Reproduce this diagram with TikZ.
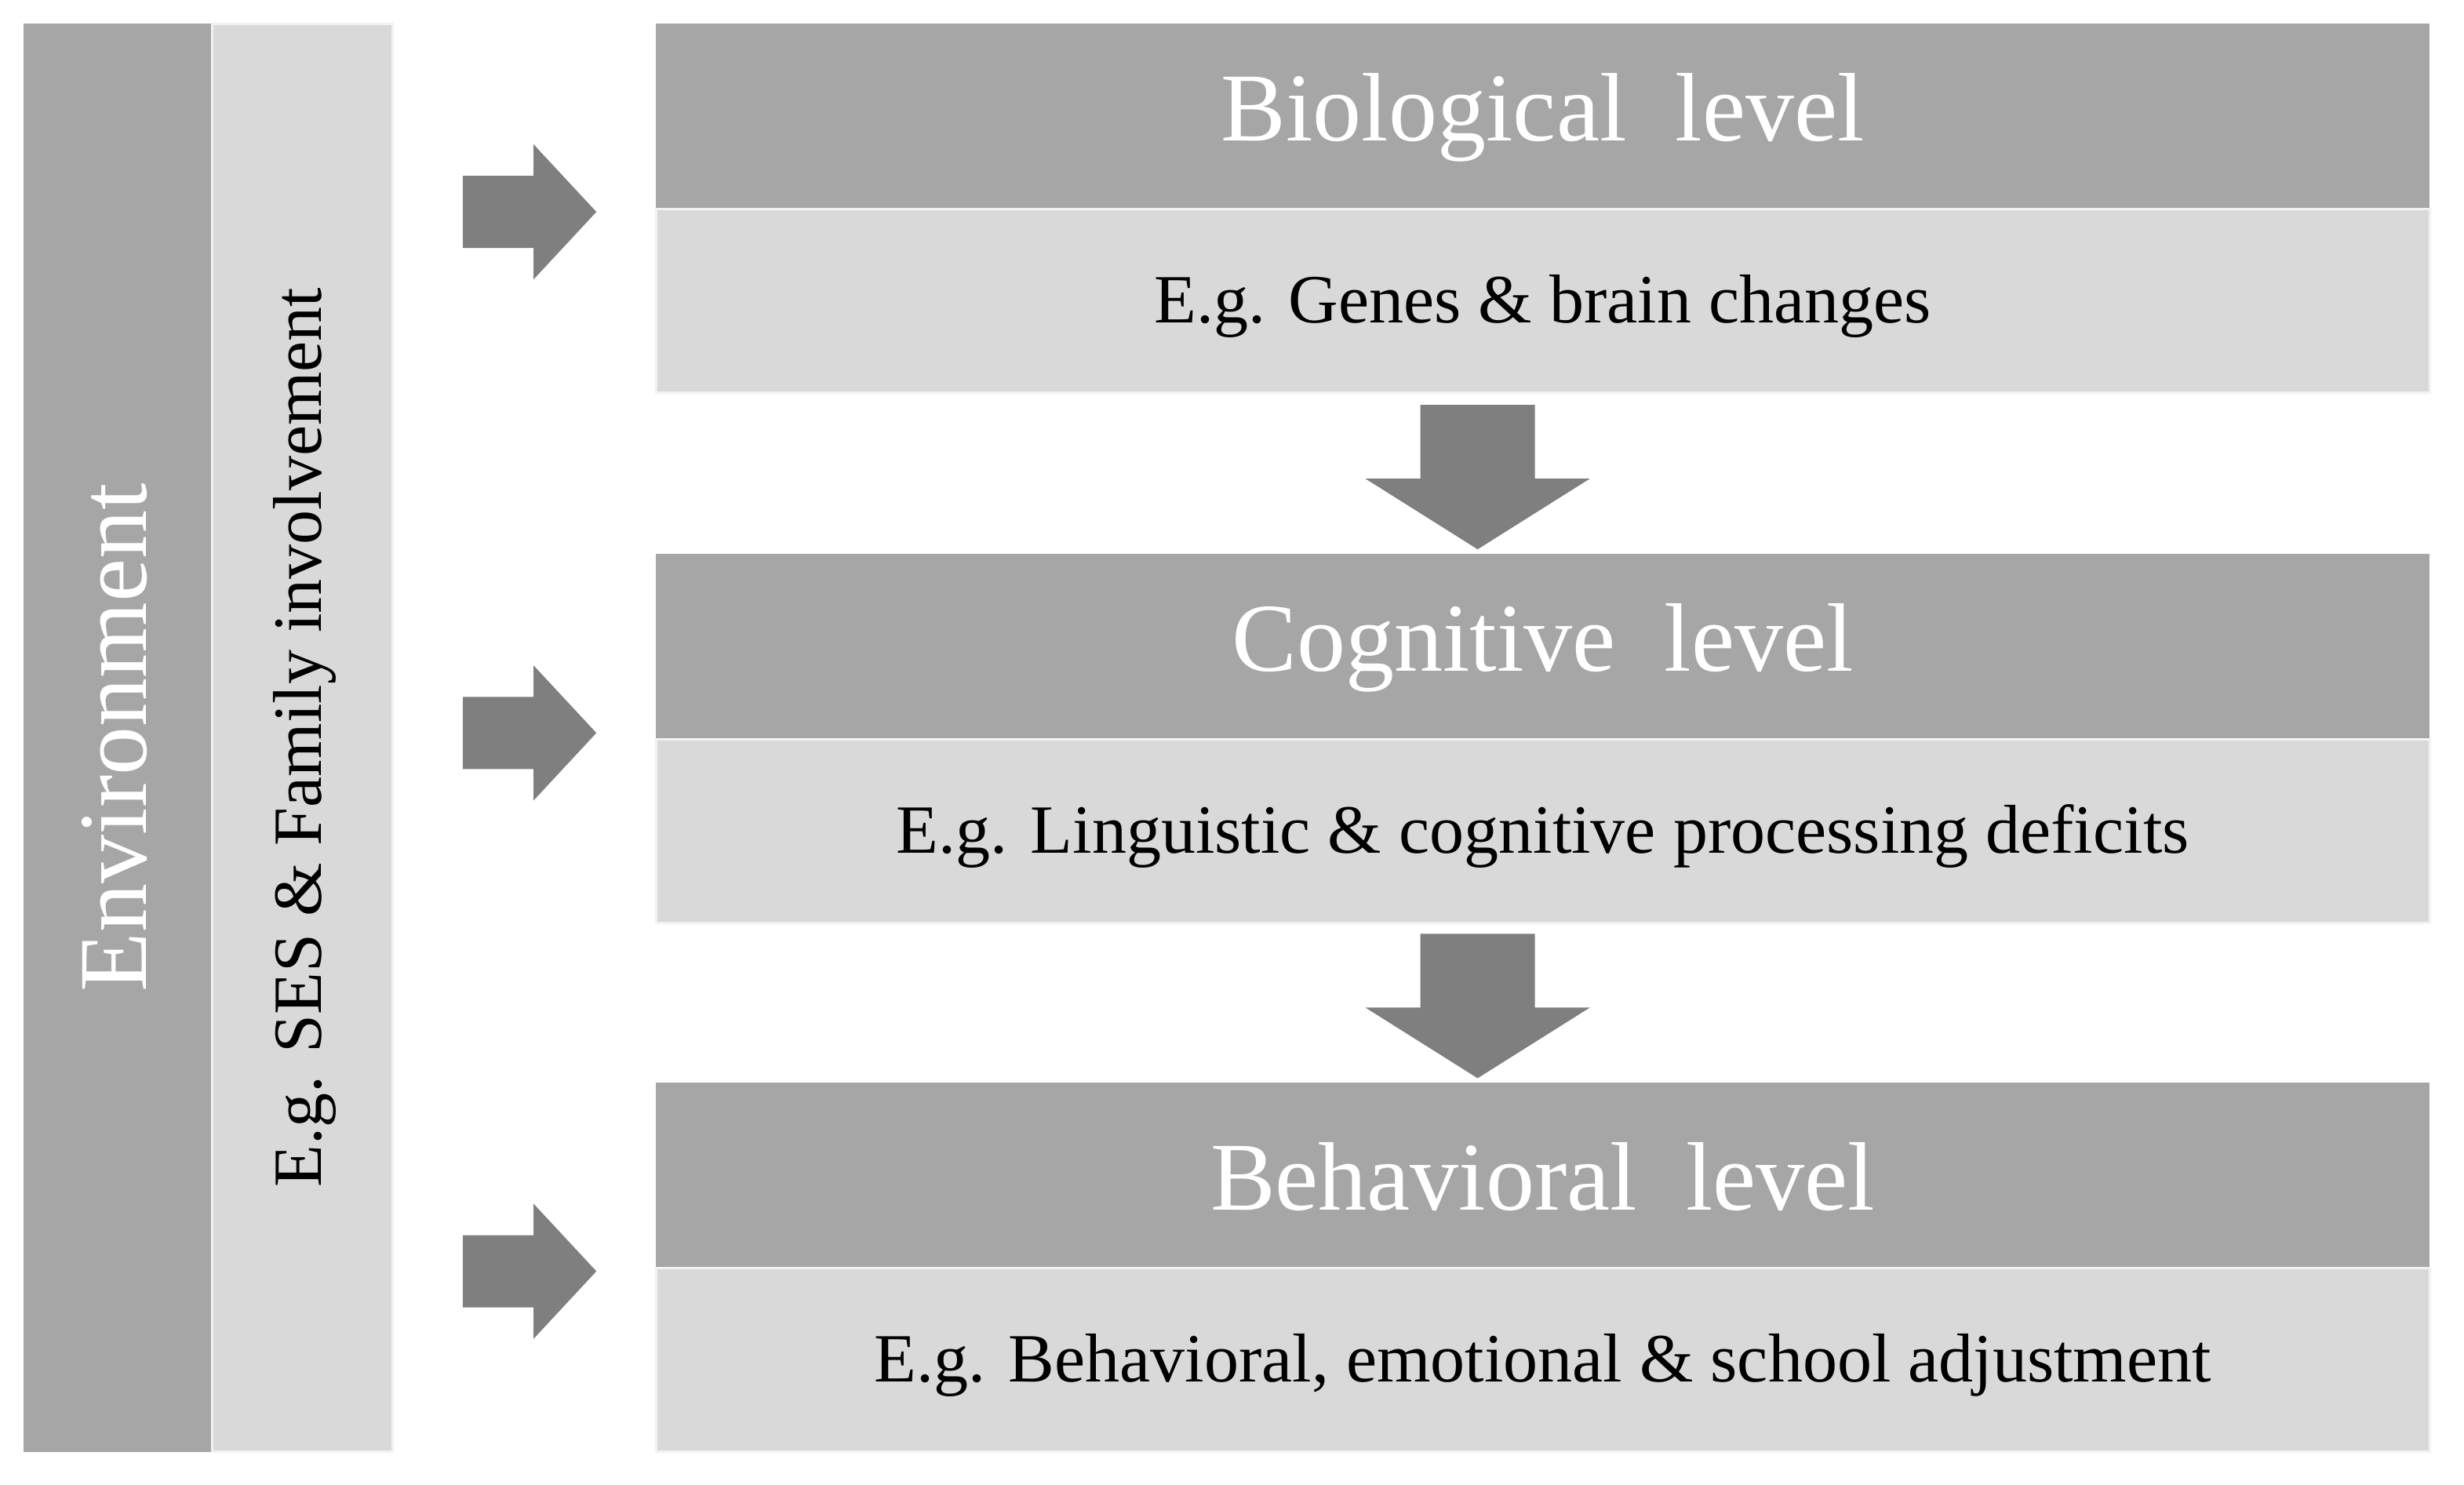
\documentclass[tikz,border=0pt]{standalone}
\usepackage{fontspec}
\setmainfont{Liberation Serif}
\definecolor{dk}{HTML}{A6A6A6}
\definecolor{lt}{HTML}{D9D9D9}
\definecolor{ar}{HTML}{7F7F7F}
\begin{document}
\begin{tikzpicture}[x=1pt,y=-1pt,
 hdr/.style={fill=dk,draw=none},
 sub/.style={fill=lt,draw=white!90!gray,line width=1.5pt},
 htxt/.style={text=white,font=\fontsize{62}{70}\selectfont},
 stxt/.style={text=black,font=\fontsize{44}{50}\selectfont},
 arr/.style={fill=ar,draw=none}]
\useasboundingbox (0,0) rectangle (1570,946);
\fill[white] (0,0) rectangle (1570,946);
% left bars
\fill[dk] (15,15) rectangle (135,925);
\draw[sub] (135,15) rectangle (250,925);
\node[htxt,rotate=90] (env) at (73,470) {Environment};
\node[stxt,rotate=90] (ses) at (194,470) {E.g. SES \& Family involvement};
% levels
\foreach \n/\y/\h/\s in {bio/15/Biological\ \ level/E.g. Genes \& brain changes,
  cog/353/Cognitive\ \ level/E.g. Linguistic \& cognitive processing deficits,
  beh/690/Behavioral\ \ level/E.g. Behavioral{,} emotional \& school adjustment}{
  \fill[dk] (418,\y) rectangle (1548,\y+118);
  \draw[sub] (418,\y+118) rectangle (1548,\y+235);
  \node[htxt] (\n h) at (983,\y+60) {\h};
  \node[stxt] (\n s) at (983,\y+180) {\s};
}
% right arrows
\foreach \c in {135,467,810}{
  \fill[arr] (295,\c-23) -- (340,\c-23) -- (340,\c-43) -- (380,\c) -- (340,\c+43) -- (340,\c+23) -- (295,\c+23) -- cycle;
}
% down arrows
\foreach \t in {258,595}{
  \fill[arr] (905,\t) -- (978,\t) -- (978,\t+47) -- (1013,\t+47) -- (941.5,\t+92) -- (870,\t+47) -- (905,\t+47) -- cycle;
}
\end{tikzpicture}
\end{document}
